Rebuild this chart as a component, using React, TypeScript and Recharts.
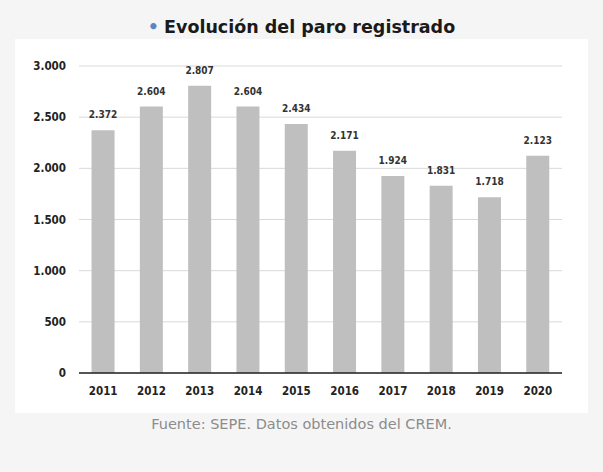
import React from "react"
import { Bar, BarChart, CartesianGrid, LabelList, XAxis, YAxis } from "recharts"

// paro registrado por año
const years = ["2011", "2012", "2013", "2014", "2015", "2016", "2017", "2018", "2019", "2020"]
const parados = [2372, 2604, 2807, 2604, 2434, 2171, 1924, 1831, 1718, 2123]
const yTicks = [0, 500, 1000, 1500, 2000, 2500, 3000]

const data = years.map((year, i) => ({ year, parados: parados[i] }))

const cond = "'DejaVu Sans Condensed', 'DejaVu Sans', sans-serif"
const wide = "'DejaVu Sans', sans-serif"
const fmt = (v: number) => v.toLocaleString("de-DE")

export default function App() {
  return (
    <div style={{ position: "fixed", left: 0, top: 0, width: 603, height: 472, background: "#f5f5f5", fontFamily: wide }}>
      <div style={{ position: "absolute", left: 0, width: 603, top: 17, textAlign: "center", fontSize: 17.5, fontWeight: "bold", color: "#1a1a1a", whiteSpace: "nowrap" }}>
        <span style={{ color: "#5b86c5", marginRight: 5 }}>•</span>Evolución del paro registrado
      </div>
      <div style={{ position: "absolute", left: 15, top: 39, width: 573, height: 374, background: "#fff" }}>
        <BarChart width={573} height={374} data={data} margin={{ top: 27, right: 26, bottom: 12, left: 0 }} barCategoryGap="26%">
          <CartesianGrid vertical={false} stroke="#d9d9d9" />
          <XAxis dataKey="year" tickLine={false} axisLine={{ stroke: "#222", strokeWidth: 1.5 }} height={28} tickMargin={8}
            tick={{ fontSize: 11.5, fontWeight: "bold", fill: "#222", fontFamily: cond }} />
          <YAxis domain={[0, 3000]} ticks={yTicks} tickFormatter={fmt} tickLine={false} axisLine={false} width={64} tickMargin={7}
            tick={{ fontSize: 11.5, fontWeight: "bold", fill: "#222", fontFamily: cond }} />
          <Bar dataKey="parados" fill="#bfbfbf" isAnimationActive={false}>
            <LabelList dataKey="parados" position="top" offset={12} formatter={(v: any) => fmt(Number(v))}
              style={{ fontSize: 10, fontWeight: "bold", fill: "#333", fontFamily: cond }} />
          </Bar>
        </BarChart>
      </div>
      <div style={{ position: "absolute", left: 0, width: 603, top: 416, textAlign: "center", fontSize: 14.5, color: "#8c8c8c", whiteSpace: "nowrap" }}>
        Fuente: SEPE. Datos obtenidos del CREM.
      </div>
    </div>
  )
}
